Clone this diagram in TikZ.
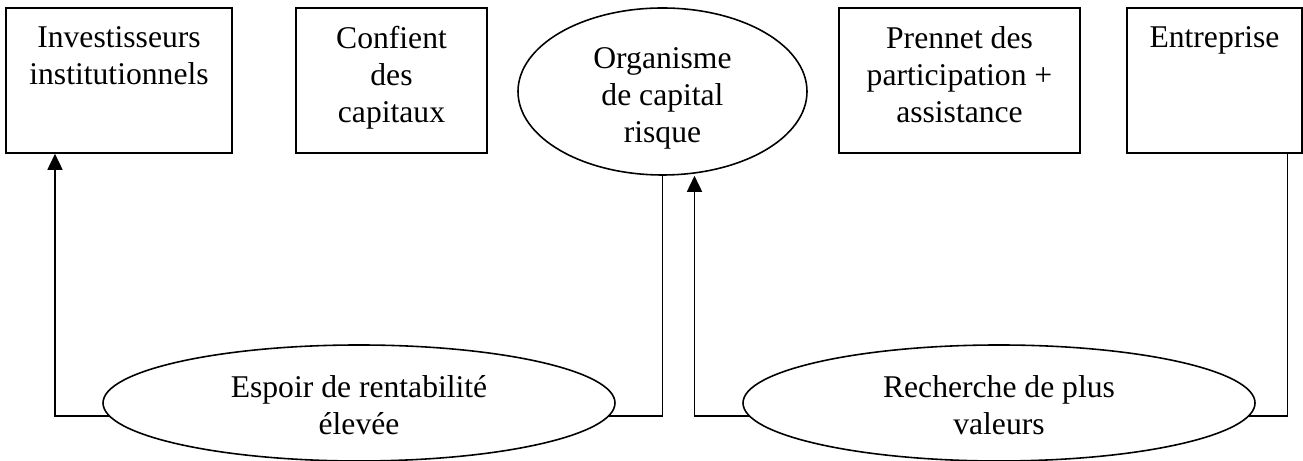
\documentclass[tikz,border=0pt]{standalone}
\usepackage{fontspec}
\setmainfont{Liberation Serif}
\usetikzlibrary{positioning,shapes.geometric,arrows.meta}

\begin{document}
\begin{tikzpicture}[
		box/.style={draw=black,line width=0.9pt,minimum width=#1,minimum height=2.9cm},
		ell/.style={ellipse,draw=black,line width=0.9pt,inner sep=0pt},
		txt/.style={align=center,inner sep=0pt,font=\fontsize{18}{21}\selectfont},
		arr/.style={line width=0.9pt,-{Triangle[width=0.3cm,length=0.32cm]}}
	]
		\useasboundingbox (0,0) rectangle (26.06,9.22);
		% top row
		\node[box=4.52cm] (1) at (2.38,7.61) {};
		\node[box=3.82cm] (2) at (7.83,7.61) {};
		\node[ell,minimum width=5.78cm,minimum height=3.34cm] (3) at (13.25,7.39) {};
		\node[box=4.82cm] (4) at (19.19,7.61) {};
		\node[box=3.5cm] (5) at (24.29,7.61) {};
		\node[txt,anchor=north] (1t) at ([yshift=-0.38cm]1.north) {Investisseurs\\institutionnels};
		\node[txt,anchor=north] (2t) at ([yshift=-0.38cm]2.north) {Confient\\des\\capitaux};
		\node[txt] (3t) at ([yshift=-0.14cm]3.center) {Organisme\\de capital\\risque};
		\node[txt,anchor=north] (4t) at ([yshift=-0.38cm]4.north) {Prennet des\\participation +\\assistance};
		\node[txt,anchor=north] (5t) at ([yshift=-0.38cm]5.north) {Entreprise};
		% bottom row
		\node[ell,minimum width=10.24cm,minimum height=2.32cm] (6) at (7.18,1.16) {};
		\node[ell,minimum width=10.24cm,minimum height=2.32cm] (7) at (19.98,1.16) {};
		\node[txt] (6t) at ([yshift=-0.04cm]6.center) {Espoir de rentabilité\\élevée};
		\node[txt] (7t) at ([yshift=-0.04cm]7.center) {Recherche de plus\\valeurs};
		% links
		\draw[arr] (6.183) -| ([xshift=-1.28cm]1.south);
		\draw[line width=0.9pt] (6.357) -| (3.south);
		\draw[arr] (7.183) -| ([xshift=0.64cm]3.south);
		\draw[line width=0.9pt] (7.357) -| ([xshift=1.46cm]5.south);
	\end{tikzpicture}
\end{document}
